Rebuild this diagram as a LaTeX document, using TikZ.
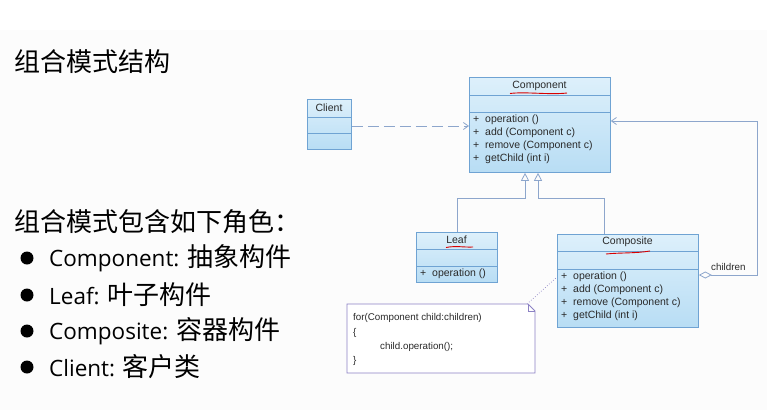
\documentclass[tikz,border=0pt]{standalone}
\usepackage{fontspec}
\setmainfont{Liberation Sans}
\newfontfamily\cjk{Noto Sans CJK SC}
\newfontfamily\latinsans{Open Sans}
\usetikzlibrary{arrows.meta,calc}
\definecolor{boxborder}{HTML}{6FA3D3}
\definecolor{boxtop}{HTML}{DDF0FB}
\definecolor{boxbot}{HTML}{B8DDF4}
\definecolor{linecol}{HTML}{8DA6CC}
\definecolor{notecol}{HTML}{8C82C4}
\definecolor{txt}{HTML}{2A2A2A}
\begin{document}
\begin{tikzpicture}[x=1pt,y=-1pt,
  umlbox/.style={draw=boxborder,line width=0.8pt,top color=boxtop,bottom color=boxbot,anchor=north west,inner sep=0pt},
  sep/.style={draw=boxborder,line width=0.6pt},
  uml/.style={font=\fontsize{10.5}{12}\selectfont,text=txt,inner sep=0pt},
  meth/.style={uml,anchor=west},
  gen/.style={draw=linecol,line width=0.8pt,-{Triangle[open,length=8pt,width=8pt]}},
  redmark/.style={draw=red!85!black,line width=0.9pt},
  cjkbig/.style={font=\cjk\fontsize{26}{30}\selectfont,text=black,anchor=west,inner sep=0pt},
]
\fill[white] (0,0) rectangle (767,410);
\fill[gray!2.5] (0,30) rectangle (767,410);
\useasboundingbox (0,0) rectangle (767,410);

% left text
\node[cjkbig] (title) at (14,62) {组合模式结构};
\node[cjkbig] (roles) at (14,222) {组合模式包含如下角色：};
\foreach \y/\en/\zh/\n in {258/Component: /抽象构件/b1, 295/Leaf: /叶子构件/b2, 331/Composite: /容器构件/b3, 367/Client: /客户类/b4}{
  \fill[black] (27,\y) circle (6.5pt);
  \node[anchor=west,inner sep=0pt,text=black] (\n) at (49,\y) {{\latinsans\fontsize{22.5}{26}\selectfont \en}{\cjk\fontsize{26}{30}\selectfont \zh}};
}

% Component
\node[umlbox,minimum width=141pt,minimum height=95pt] (comp) at (469,77) {};
\draw[sep] (469,95) -- (610,95);
\draw[sep] (469,112) -- (610,112);
\node[uml] (compt) at (539.5,86) {Component};
\node[meth] (c1) at (473,120) {+\ \ operation ()};
\node[meth] (c2) at (473,133) {+\ \ add (Component c)};
\node[meth] (c3) at (473,146) {+\ \ remove (Component c)};
\node[meth] (c4) at (473,159) {+\ \ getChild (int i)};
\draw[redmark] (510,93.5) .. controls (525,91.5) and (550,95) .. (567,93);

% Client
\node[umlbox,minimum width=44pt,minimum height=50pt] (client) at (307,99) {};
\draw[sep] (307,117) -- (351,117);
\draw[sep] (307,133) -- (351,133);
\node[uml] (clientt) at (329,107.5) {Client};

% Leaf
\node[umlbox,minimum width=81pt,minimum height=50pt] (leaf) at (416,232) {};
\draw[sep] (416,249) -- (497,249);
\draw[sep] (416,266) -- (497,266);
\node[uml] (leaft) at (456.5,240) {Leaf};
\node[meth] (l1) at (420,274) {+\ \ operation ()};
\draw[redmark] (446,247.5) .. controls (456,245.5) and (464,247.5) .. (473,247);

% Composite
\node[umlbox,minimum width=141pt,minimum height=93pt] (compo) at (557,234) {};
\draw[sep] (557,251) -- (698,251);
\draw[sep] (557,269) -- (698,269);
\node[uml] (compot) at (627.5,242) {Composite};
\node[meth] (k1) at (561,277) {+\ \ operation ()};
\node[meth] (k2) at (561,290) {+\ \ add (Component c)};
\node[meth] (k3) at (561,303) {+\ \ remove (Component c)};
\node[meth] (k4) at (561,316) {+\ \ getChild (int i)};
\draw[redmark] (606,254) .. controls (620,252.5) and (635,253.5) .. (650,251);

% Note
\draw[draw=notecol,line width=0.8pt,fill=white] (347,304) -- (528,304) -- (535,311) -- (535,373) -- (347,373) -- cycle;
\draw[draw=notecol,line width=0.6pt] (528,304) -- (528,311) -- (535,311);
\coordinate (nc) at (527,304);
\node[meth,font=\fontsize{9.8}{11}\selectfont] (n1) at (353,318) {for(Component child:children)};
\node[meth,font=\fontsize{9.8}{11}\selectfont] (n2) at (353,333) {\{};
\node[meth,font=\fontsize{9.8}{11}\selectfont] (n3) at (380,347) {child.operation();};
\node[meth,font=\fontsize{9.8}{11}\selectfont] (n4) at (353,361) {\}};

% connectors
\draw[draw=linecol,line width=0.8pt,dash pattern=on 11pt off 5pt,-{Straight Barb[length=5pt,width=7pt]}] (client.east |- 0,126) -- (comp.west |- 0,126);
\draw[gen] (leaf.north) |- (525,198) -- (comp.south -| 525,0);
\draw[gen] (compo.north -| 604,0) |- (538,198) -- (comp.south -| 538,0);
\draw[draw=linecol,line width=0.8pt,{Diamond[open,length=13pt,width=7pt]}-{Straight Barb[length=5pt,width=7pt]}] (compo.east |- 0,275) -- (757,275) -- (757,121) -- (comp.east |- 0,121);
\node[uml,anchor=west,font=\fontsize{9.8}{11}\selectfont] (chl) at (711,267) {children};
\draw[draw=notecol,line width=0.7pt,dotted] (nc) -- (compo.west |- 0,277);
\end{tikzpicture}
\end{document}
